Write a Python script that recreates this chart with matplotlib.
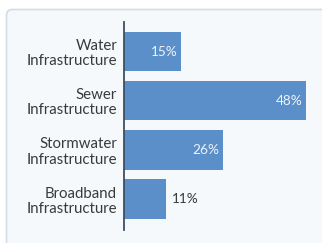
import numpy as np
from matplotlib import pyplot as plt
from matplotlib.patches import FancyBboxPatch
from matplotlib.transforms import IdentityTransform

# data
categories = ["Water\nInfrastructure", "Sewer\nInfrastructure",
              "Stormwater\nInfrastructure", "Broadband\nInfrastructure"]
percent = [15, 48, 26, 11]

plt.rcParams['font.family'] = ['Lato', 'DejaVu Sans']

fig = plt.figure(figsize=(3.22, 2.43), dpi=100)
fig.patch.set_facecolor("white")

# the light card behind the chart (pixel coords)
card = FancyBboxPatch((6.5, -20), 360, 243 - 9.5 + 20,
                      boxstyle="round,pad=0,rounding_size=6",
                      transform=IdentityTransform(),
                      facecolor="#f6f9fc", edgecolor="#d3dbe6", linewidth=1.2,
                      zorder=-10)
fig.add_artist(card)

ax = fig.add_axes([124 / 322, 1 - 230 / 243, 189.5 / 322, 208 / 243])
ax.patch.set_alpha(0)

y = np.arange(len(categories))
ax.barh(y, percent, height=0.8, color="#5b8fc9")

ax.set_xlim(0, 50)
ax.set_ylim(3.63, -0.6)
ax.set_yticks(y)
ax.set_yticklabels(categories, fontsize=10.8, color="#3a3a3a", ha="right",
                   linespacing=1.12)
ax.tick_params(axis="y", length=0, pad=5)
ax.set_xticks([])

for s in ["top", "right", "bottom"]:
    ax.spines[s].set_visible(False)
ax.spines["left"].set_color("#3e4f63")
ax.spines["left"].set_linewidth(1.3)

for i, v in enumerate(percent):
    label = str(v) + "%"
    if v > 12:
        ax.annotate(label, (v, i), xytext=(-2.2, 0), textcoords="offset points",
                    ha="right", va="center", fontsize=9.8, color="#eef3fa")
    else:
        ax.annotate(label, (v, i), xytext=(4.3, 0), textcoords="offset points",
                    ha="left", va="center", fontsize=9.8, color="#3a3a3a")

fig.savefig("out.png", dpi=100)
